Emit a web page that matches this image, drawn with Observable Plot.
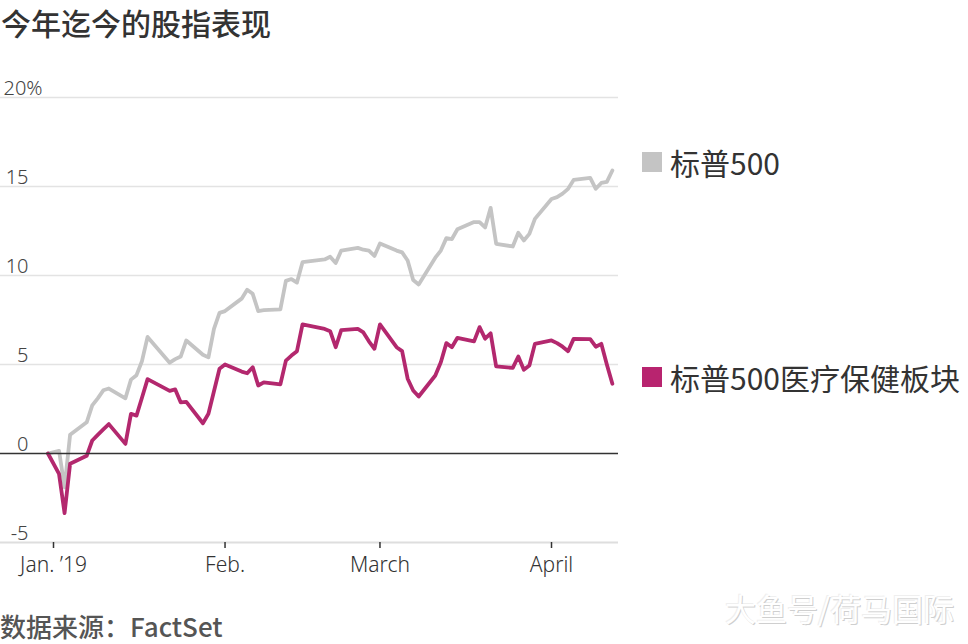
<!DOCTYPE html>
<html>
<head>
<meta charset="utf-8">
<script src="https://cdn.jsdelivr.net/npm/d3@7"></script>
<script src="https://cdn.jsdelivr.net/npm/@observablehq/plot@0.6"></script>
<style>
  html, body { margin: 0; padding: 0; background: #fff; }
  #wrap { position: relative; width: 968px; height: 644px; overflow: hidden; font-family: "Noto Sans CJK SC", "Noto Sans", sans-serif; }
  #chart { position: absolute; left: 0; top: 44px; }
  .title { position: absolute; left: 1px; top: 0px; font-size: 30px; line-height: normal; color: #333; font-weight: 500; white-space: nowrap; }
  .source { position: absolute; left: 0px; top: 610px; font-size: 26px; line-height: 32px; color: #555; font-weight: 500; white-space: nowrap; }
  .leg { position: absolute; left: 642px; font-size: 30px; line-height: 32px; color: #333; white-space: nowrap; display: flex; align-items: center; }
  .leg .sw { width: 20px; height: 20px; margin-right: 8px; display: inline-block; }
  .wm { position: absolute; left: 725px; top: 589px; font-size: 31px; line-height: 38px; color: #fff; white-space: nowrap;
        text-shadow: 1px 1px 0 #cfcfcf, -1px -1px 0 #efefef; }
</style>
</head>
<body>
<div id="wrap">
  <div class="title">今年迄今的股指表现</div>
  <div id="chart"></div>
  <div class="leg" id="leg1" style="top:146px"><span class="sw" style="background:#c4c4c4"></span><span>标普500</span></div>
  <div class="leg" id="leg2" style="top:361px"><span class="sw" style="background:#b8246f"></span><span>标普500医疗保健板块</span></div>
  <div class="source">数据来源：FactSet</div>
  <div class="wm">大鱼号/荷马国际</div>
</div>
<script>
const dates = [
  "2018-12-31",
  "2019-01-02","2019-01-03","2019-01-04","2019-01-07","2019-01-08","2019-01-09","2019-01-10","2019-01-11",
  "2019-01-14","2019-01-15","2019-01-16","2019-01-17","2019-01-18","2019-01-22","2019-01-23","2019-01-24",
  "2019-01-25","2019-01-28","2019-01-29","2019-01-30","2019-01-31",
  "2019-02-01","2019-02-04","2019-02-05","2019-02-06","2019-02-07","2019-02-08","2019-02-11","2019-02-12",
  "2019-02-13","2019-02-14","2019-02-15","2019-02-19","2019-02-20","2019-02-21","2019-02-22","2019-02-25",
  "2019-02-26","2019-02-27","2019-02-28",
  "2019-03-01","2019-03-04","2019-03-05","2019-03-06","2019-03-07","2019-03-08","2019-03-11","2019-03-12",
  "2019-03-13","2019-03-14","2019-03-15","2019-03-18","2019-03-19","2019-03-20","2019-03-21","2019-03-22",
  "2019-03-25","2019-03-26","2019-03-27","2019-03-28","2019-03-29",
  "2019-04-01","2019-04-02","2019-04-03","2019-04-04","2019-04-05","2019-04-08","2019-04-09","2019-04-10",
  "2019-04-11","2019-04-12"
];
const sp500 = [
  0,
  0.15, -1.9, 1.05, 1.75, 2.7, 3.1, 3.55, 3.65,
  3.1, 4.15, 4.4, 5.2, 6.55, 5.1, 5.3, 5.45,
  6.35, 5.55, 5.4, 7.0, 7.9,
  8.0, 8.7, 9.2, 8.97, 8.0, 8.05, 8.1, 9.7,
  9.8, 9.6, 10.75, 10.9, 11.05, 10.7, 11.4, 11.55,
  11.45, 11.4, 11.1,
  11.8, 11.4, 11.3, 10.84, 9.75, 9.5, 11.0, 11.4,
  12.1, 12.05, 12.6, 13.0, 13.0, 12.7, 13.8, 11.78,
  11.63, 12.4, 11.97, 12.34, 13.18,
  14.3, 14.4, 14.6, 14.87, 15.37, 15.48, 14.87, 15.2,
  15.26, 15.9
];
const healthCare = [
  0,
  -1.15, -3.35, -0.58, -0.13, 0.73, 1.05, 1.35, 1.65,
  0.54, 2.23, 2.13, 3.15, 4.18, 3.52, 3.6, 2.87,
  2.9, 1.7, 2.23, 3.5, 4.76,
  5.0, 4.6, 4.51, 4.85, 3.82, 4.0, 3.88, 5.22,
  5.5, 5.75, 7.25, 7.0, 6.87, 5.97, 6.93, 7.0,
  6.8, 6.3, 5.88,
  7.25, 5.97, 5.75, 4.2, 3.54, 3.2, 4.38, 5.13,
  6.2, 5.97, 6.5, 6.3, 7.1, 6.45, 6.75, 4.89,
  4.81, 5.45, 4.7, 4.94, 6.16,
  6.35, 6.2, 6.0, 5.75, 6.44, 6.42, 6.0, 6.16,
  5.0, 3.92
];
const seriesNames = ["标普500", "标普500医疗保健板块"];
const seriesColors = ["#c4c4c4", "#b3286e"];
const yTicks = [-5, 0, 5, 10, 15, 20];
const yTickLabels = ["-5", "0", "5", "10", "15", "20%"];
const xTickDates = ["2019-01-01", "2019-02-01", "2019-03-01", "2019-04-01"];
const xTickLabels = ["Jan. \u201919", "Feb.", "March", "April"];

const parse = s => new Date(s + "T00:00:00Z");
const rows = [];
dates.forEach((d, i) => {
  rows.push({date: parse(d), value: sp500[i], series: seriesNames[0]});
});
dates.forEach((d, i) => {
  rows.push({date: parse(d), value: healthCare[i], series: seriesNames[1]});
});
const xTicks = xTickDates.map(parse);
const labelByTime = new Map(xTicks.map((d, i) => [+d, xTickLabels[i]]));

const numFont = "'Noto Sans', 'Open Sans', sans-serif";

const chart = Plot.plot({
  width: 968,
  height: 556,
  marginTop: 53,
  marginBottom: 58,
  marginLeft: 0,
  marginRight: 350,
  style: {background: "transparent", fontFamily: numFont},
  x: {type: "utc", domain: [new Date(Date.UTC(2018, 11, 22, 10, 7)), new Date(Date.UTC(2019, 3, 13, 2, 35))], axis: null},
  y: {domain: [-5, 20], axis: null},
  color: {domain: seriesNames, range: seriesColors},
  marks: [
    Plot.ruleY(yTicks.filter(v => v !== 0 && v !== -5), {y: d => d, stroke: "#e3e3e3", strokeWidth: 1.5}),
    Plot.ruleY([-5], {y: d => d, stroke: "#dedede", strokeWidth: 2}),
    Plot.text(yTicks.filter(v => v !== 20), {
      y: d => d, frameAnchor: "left", textAnchor: "end", lineAnchor: "bottom", dx: 28, dy: -3,
      text: d => yTickLabels[yTicks.indexOf(d)], fontSize: 20, fill: "#444", fontWeight: 300
    }),
    Plot.text([20], {
      y: d => d, frameAnchor: "left", textAnchor: "start", lineAnchor: "bottom", dx: 3, dy: -3,
      text: d => yTickLabels[yTicks.indexOf(d)], fontSize: 20, fill: "#444", fontWeight: 300
    }),
    Plot.axisX(xTicks, {
      tickSize: 6, tickPadding: 9, fontSize: 21, stroke: "#333", strokeWidth: 1.5,
      fill: "#333", fontWeight: 300,
      tickFormat: d => labelByTime.get(+d)
    }),
    Plot.lineY(rows, {
      x: "date", y: "value", z: "series", stroke: "series",
      strokeWidth: 3.8, strokeLinejoin: "round", strokeLinecap: "round"
    }),
    Plot.ruleY([0], {y: d => d, stroke: "#333", strokeWidth: 1.6})
  ]
});
document.getElementById("chart").appendChild(chart);
</script>
</body>
</html>
